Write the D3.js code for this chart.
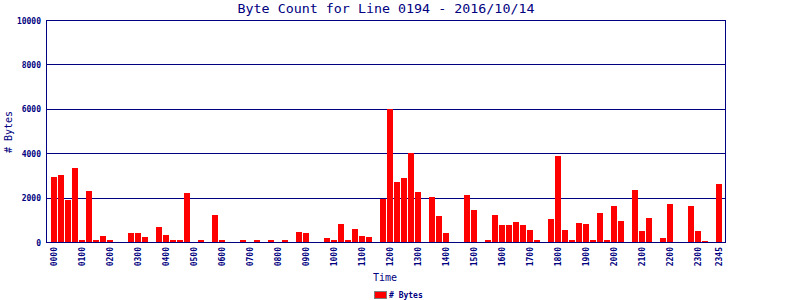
<!DOCTYPE html>
<html>
<head>
<meta charset="utf-8">
<script src="https://cdn.jsdelivr.net/npm/d3@7"></script>
<style>
  html, body { margin: 0; padding: 0; background: #fff; }
  svg { display: block; }
</style>
</head>
<body>
<script>
const times = [
  "0000","0015","0030","0045","0100","0115","0130","0145","0200","0215","0230","0245",
  "0300","0315","0330","0345","0400","0415","0430","0445","0500","0515","0530","0545",
  "0600","0615","0630","0645","0700","0715","0730","0745","0800","0815","0830","0845",
  "0900","0915","0930","0945","1000","1015","1030","1045","1100","1115","1130","1145",
  "1200","1215","1230","1245","1300","1315","1330","1345","1400","1415","1430","1445",
  "1500","1515","1530","1545","1600","1615","1630","1645","1700","1715","1730","1745",
  "1800","1815","1830","1845","1900","1915","1930","1945","2000","2015","2030","2045",
  "2100","2115","2130","2145","2200","2215","2230","2245","2300","2315","2330","2345"
];
const bytes = [
  2950, 3030, 1910, 3350, 90, 2310, 90, 270, 90, 0, 0, 405,
  405, 225, 0, 675, 315, 90, 90, 2210, 0, 90, 0, 1215,
  90, 0, 0, 90, 0, 90, 0, 90, 0, 90, 0, 450,
  405, 0, 0, 180, 90, 810, 90, 585, 270, 225, 0, 1935,
  5990, 2700, 2880, 3990, 2250, 0, 2025, 1170, 405, 0, 0, 2115,
  1440, 0, 90, 1215, 765, 765, 900, 765, 540, 90, 0, 1035,
  3870, 540, 90, 855, 810, 90, 1305, 90, 1620, 945, 0, 2340,
  495, 1080, 0, 180, 1710, 0, 0, 1620, 495, 45, 0, 2610
];
const xTickLabels = ["0000","0100","0200","0300","0400","0500","0600","0700","0800","0900","1000","1100",
  "1200","1300","1400","1500","1600","1700","1800","1900","2000","2100","2200","2300","2345"];
const yTicks = [0, 2000, 4000, 6000, 8000, 10000];
const gridTicks = [2000, 4000, 6000, 8000];
const title = "Byte Count for Line 0194 - 2016/10/14";
const yTitle = "# Bytes";
const xTitle = "Time";
const legendLabel = "# Bytes";

const W = 800, H = 300;
const plotL = 46, plotR = 725, plotT = 20, plotB = 242;
const navy = "#000080";
const mono = "'DejaVu Sans Mono', monospace";

const svg = d3.select("body").append("svg").attr("width", W).attr("height", H);

const x = d3.scaleLinear().domain([0, times.length - 1]).range([54, 719]);
const y = d3.scaleLinear().domain([0, 10000]).range([plotB, plotT]);

// grid lines
svg.append("g").selectAll("line").data(gridTicks).join("line")
  .attr("x1", plotL).attr("x2", plotR)
  .attr("y1", d => Math.round(y(d)) + 0.5).attr("y2", d => Math.round(y(d)) + 0.5)
  .attr("stroke", navy).attr("stroke-width", 1);

// bars
svg.append("g").selectAll("rect").data(bytes).join("rect")
  .attr("x", (d, i) => Math.round(x(i)) - 3)
  .attr("width", 6)
  .attr("y", d => Math.round(y(d)))
  .attr("height", d => plotB - Math.round(y(d)))
  .attr("fill", "#ff0000");

// frame
svg.append("rect")
  .attr("x", plotL + 0.5).attr("y", plotT + 0.5)
  .attr("width", plotR - plotL).attr("height", plotB - plotT)
  .attr("fill", "none").attr("stroke", navy).attr("stroke-width", 1);

// y axis
const yAxis = svg.append("g").attr("transform", `translate(${plotL},0.5)`)
  .call(d3.axisLeft(y).tickValues(yTicks).tickSize(0).tickPadding(5).tickFormat(d3.format("d")));
yAxis.select(".domain").remove();
yAxis.selectAll("text")
  .attr("fill", navy).attr("font-family", mono).attr("font-size", 8).attr("font-weight", "bold");

// x axis
const tickIdx = xTickLabels.map(l => times.indexOf(l));
const xAxis = svg.append("g").attr("transform", `translate(0,${plotB})`)
  .call(d3.axisBottom(x).tickValues(tickIdx).tickSize(0)
    .tickFormat(i => times[i]));
xAxis.select(".domain").remove();
xAxis.selectAll(".tick text")
  .attr("fill", navy).attr("font-family", mono).attr("font-size", 8).attr("font-weight", "bold")
  .attr("transform", "rotate(-90)")
  .attr("text-anchor", "end")
  .attr("x", -5).attr("y", 0).attr("dy", "0.35em");

// title
svg.append("text")
  .attr("x", 386).attr("y", 13)
  .attr("text-anchor", "middle")
  .attr("font-family", mono).attr("font-size", 13)
  .attr("textLength", 297).attr("lengthAdjust", "spacingAndGlyphs")
  .attr("fill", navy).text(title);

// y title
svg.append("text")
  .attr("transform", "translate(12,132) rotate(-90)")
  .attr("text-anchor", "middle")
  .attr("font-family", mono).attr("font-size", 10)
  .attr("fill", navy).text(yTitle);

// x title
svg.append("text")
  .attr("x", 385).attr("y", 281)
  .attr("text-anchor", "middle")
  .attr("font-family", mono).attr("font-size", 10)
  .attr("fill", navy).text(xTitle);

// legend
svg.append("rect")
  .attr("x", 374.5).attr("y", 291.5).attr("width", 12).attr("height", 7)
  .attr("fill", "#ff0000").attr("stroke", "#808080").attr("stroke-width", 1);
svg.append("text")
  .attr("x", 389).attr("y", 298)
  .attr("font-family", mono).attr("font-size", 8).attr("font-weight", "bold")
  .attr("fill", navy).text(legendLabel);
</script>
</body>
</html>
